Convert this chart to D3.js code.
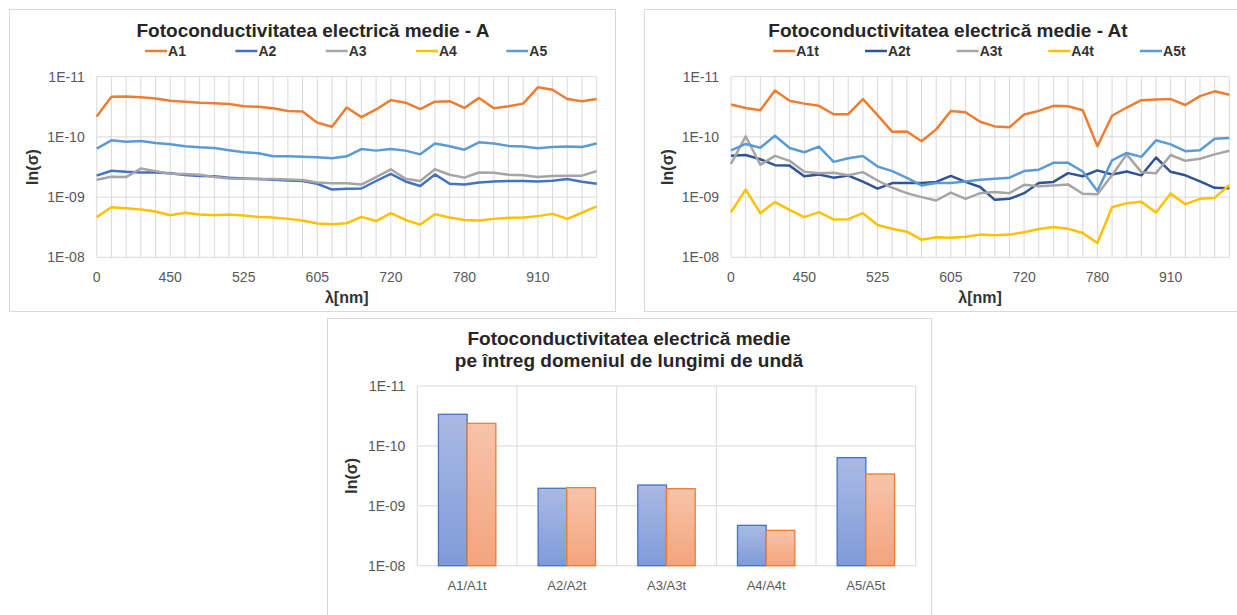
<!DOCTYPE html>
<html><head><meta charset="utf-8">
<script src="https://cdn.jsdelivr.net/npm/d3@7"></script>
<style>body{margin:0;background:#fff}svg{display:block;font-family:Arial,"Liberation Sans",sans-serif}</style>
</head><body><svg id="c" width="1237" height="615"></svg>
<script>
// ---- data ----
const xTickLabels = ["0","450","525","605","720","780","910"]; // shown every 5th category
const yTickValues = [1e-11, 1e-10, 1e-9, 1e-8];
const yTickLabels = ["1E-11","1E-10","1E-09","1E-08"];

const namesA = ["A1","A2","A3","A4","A5"];
const A1 = [4.6e-11,2.15e-11,2.13e-11,2.2e-11,2.3e-11,2.5e-11,2.6e-11,2.7e-11,2.75e-11,2.85e-11,3.1e-11,3.15e-11,3.35e-11,3.7e-11,3.8e-11,5.8e-11,6.8e-11,3.25e-11,4.7e-11,3.5e-11,2.45e-11,2.7e-11,3.45e-11,2.6e-11,2.55e-11,3.3e-11,2.25e-11,3.35e-11,3.1e-11,2.8e-11,1.5e-11,1.65e-11,2.35e-11,2.55e-11,2.35e-11];
const A2 = [4.4e-10,3.65e-10,3.8e-10,3.9e-10,3.9e-10,4.0e-10,4.3e-10,4.45e-10,4.5e-10,4.75e-10,4.9e-10,5.0e-10,5.15e-10,5.3e-10,5.4e-10,6.0e-10,7.5e-10,7.3e-10,7.2e-10,5.4e-10,4.1e-10,5.5e-10,6.55e-10,4.2e-10,6.0e-10,6.2e-10,5.7e-10,5.5e-10,5.4e-10,5.4e-10,5.5e-10,5.35e-10,5.0e-10,5.55e-10,6.0e-10];
const A3 = [5.15e-10,4.6e-10,4.65e-10,3.35e-10,3.7e-10,4.1e-10,4.15e-10,4.25e-10,4.65e-10,4.9e-10,4.95e-10,5.0e-10,5.0e-10,5.1e-10,5.2e-10,5.7e-10,5.9e-10,5.9e-10,6.2e-10,4.65e-10,3.45e-10,4.95e-10,5.4e-10,3.45e-10,4.25e-10,4.75e-10,3.9e-10,3.95e-10,4.25e-10,4.35e-10,4.65e-10,4.45e-10,4.4e-10,4.4e-10,3.7e-10];
const A4 = [2.15e-9,1.47e-9,1.53e-9,1.6e-9,1.73e-9,2.0e-9,1.82e-9,1.95e-9,2.0e-9,1.95e-9,2.02e-9,2.15e-9,2.18e-9,2.3e-9,2.45e-9,2.75e-9,2.82e-9,2.72e-9,2.13e-9,2.5e-9,1.85e-9,2.4e-9,2.86e-9,1.92e-9,2.18e-9,2.4e-9,2.45e-9,2.3e-9,2.2e-9,2.18e-9,2.07e-9,1.9e-9,2.3e-9,1.82e-9,1.43e-9];
const A5 = [1.57e-10,1.14e-10,1.2e-10,1.17e-10,1.26e-10,1.33e-10,1.43e-10,1.49e-10,1.53e-10,1.67e-10,1.8e-10,1.87e-10,2.1e-10,2.1e-10,2.13e-10,2.18e-10,2.27e-10,2.1e-10,1.59e-10,1.69e-10,1.59e-10,1.69e-10,1.95e-10,1.29e-10,1.43e-10,1.63e-10,1.23e-10,1.29e-10,1.41e-10,1.45e-10,1.55e-10,1.47e-10,1.45e-10,1.47e-10,1.29e-10];

const namesAt = ["A1t","A2t","A3t","A4t","A5t"];
const A1t = [2.9e-11,3.3e-11,3.6e-11,1.7e-11,2.5e-11,2.8e-11,3.05e-11,4.2e-11,4.2e-11,2.35e-11,4.35e-11,8.25e-11,8.15e-11,1.18e-10,7.5e-11,3.7e-11,3.9e-11,5.6e-11,6.7e-11,6.9e-11,4.25e-11,3.7e-11,3.05e-11,3.1e-11,3.6e-11,1.43e-10,4.45e-11,3.25e-11,2.45e-11,2.4e-11,2.35e-11,2.95e-11,2.1e-11,1.75e-11,2.0e-11];
const A2t = [2.05e-10,2.0e-10,2.35e-10,2.95e-10,3.0e-10,4.5e-10,4.2e-10,4.75e-10,4.4e-10,5.55e-10,7.25e-10,5.85e-10,5.85e-10,5.85e-10,5.6e-10,4.45e-10,5.6e-10,6.8e-10,1.11e-9,1.07e-9,8.6e-10,5.85e-10,5.6e-10,4.0e-10,4.5e-10,3.6e-10,4.2e-10,3.75e-10,4.35e-10,2.2e-10,3.8e-10,4.35e-10,5.5e-10,7.0e-10,7.1e-10];
const A3t = [2.8e-10,9.75e-11,2.9e-10,2.07e-10,2.5e-10,3.8e-10,4.0e-10,3.95e-10,4.35e-10,3.85e-10,5.3e-10,7.0e-10,8.6e-10,1.0e-9,1.14e-9,8.4e-10,1.07e-9,8.6e-10,8.25e-10,8.6e-10,6.25e-10,6.6e-10,6.4e-10,6.15e-10,8.8e-10,9.0e-10,4.35e-10,1.95e-10,3.85e-10,4.0e-10,2.0e-10,2.5e-10,2.3e-10,1.95e-10,1.7e-10];
const A4t = [1.78e-9,7.5e-10,1.85e-9,1.21e-9,1.63e-9,2.15e-9,1.78e-9,2.35e-9,2.33e-9,1.85e-9,2.9e-9,3.35e-9,3.75e-9,5.1e-9,4.65e-9,4.75e-9,4.55e-9,4.2e-9,4.3e-9,4.2e-9,3.85e-9,3.4e-9,3.15e-9,3.35e-9,3.95e-9,5.8e-9,1.47e-9,1.26e-9,1.2e-9,1.8e-9,8.7e-10,1.31e-9,1.07e-9,1.03e-9,6.3e-10];
const A5t = [1.67e-10,1.31e-10,1.51e-10,9.6e-11,1.53e-10,1.8e-10,1.45e-10,2.6e-10,2.27e-10,2.07e-10,3.1e-10,3.7e-10,4.8e-10,6.4e-10,5.85e-10,5.85e-10,5.5e-10,5.15e-10,4.95e-10,4.75e-10,3.7e-10,3.5e-10,2.7e-10,2.7e-10,3.75e-10,7.9e-10,2.45e-10,1.85e-10,2.15e-10,1.14e-10,1.33e-10,1.73e-10,1.67e-10,1.07e-10,1.04e-10];

const barCategories = ["A1/A1t","A2/A2t","A3/A3t","A4/A4t","A5/A5t"];
const barA  = [2.97e-11, 5.1e-10, 4.5e-10, 2.12e-9, 1.57e-10];
const barAt = [4.2e-11, 4.98e-10, 5.18e-10, 2.57e-9, 2.94e-10];

// ---- styles ----
const colorsA  = ["#ED7D31","#4472C4","#A5A5A5","#FFC000","#5B9BD5"];
const colorsAt = ["#ED7D31","#2F5597","#A5A5A5","#FFC000","#5B9BD5"];
const gridColor = "#D9D9D9";
const tickColor = "#595959";
const titleColor = "#262626";

const svg = d3.select("#c");

function yAxisGrid(g, y, l, r, fs) {
  yTickValues.forEach((v, i) => {
    g.append("line").attr("x1", l).attr("x2", r).attr("y1", y(v)).attr("y2", y(v))
      .attr("stroke", gridColor).attr("stroke-width", 1);
    g.append("text").attr("x", l - 12).attr("y", y(v)).attr("dy", "0.35em")
      .attr("text-anchor", "end").attr("font-size", fs).attr("fill", tickColor)
      .text(yTickLabels[i]);
  });
}

function lineChart(cfg) {
  const {panel, plot, title, names, series, colors, legendStep} = cfg;
  const g = svg.append("g");
  g.append("rect").attr("x", panel.x + 0.5).attr("y", panel.y + 0.5)
    .attr("width", panel.w).attr("height", panel.h)
    .attr("fill", "#fff").attr("stroke", gridColor);
  const n = series[0].length;
  const idx = d3.range(n);
  const x = d3.scalePoint().domain(idx).range([plot.l, plot.r]);
  const y = d3.scaleLog().domain([1e-11, 1e-8]).range([plot.t, plot.b]);
  // vertical grid
  idx.forEach(i => {
    g.append("line").attr("x1", x(i)).attr("x2", x(i)).attr("y1", plot.t).attr("y2", plot.b)
      .attr("stroke", gridColor).attr("stroke-width", 1);
  });
  yAxisGrid(g, y, plot.l, plot.r, 14);
  // x tick labels every 5th
  xTickLabels.forEach((lab, k) => {
    g.append("text").attr("x", x(k * 5)).attr("y", plot.b + 25)
      .attr("text-anchor", "middle").attr("font-size", 14).attr("fill", tickColor).text(lab);
  });
  // lines
  const line = d3.line().x((d, i) => x(i)).y(d => y(d));
  series.forEach((s, k) => {
    g.append("path").datum(s).attr("d", line).attr("fill", "none")
      .attr("stroke", colors[k]).attr("stroke-width", 2.5).attr("stroke-linejoin", "round");
  });
  // title
  g.append("text").attr("x", panel.x + panel.w / 2 + 1).attr("y", 37)
    .attr("text-anchor", "middle").attr("font-size", 19).attr("font-weight", "bold")
    .attr("fill", titleColor).text(title);
  // legend
  const cx = (plot.l + plot.r) / 2;
  const total = legendStep * (names.length - 1) + 22 + 2 + (names[0].length > 2 ? 23 : 18);
  let lx = cx - total / 2;
  names.forEach((nm, k) => {
    const x0 = lx + k * legendStep;
    g.append("line").attr("x1", x0).attr("x2", x0 + 22).attr("y1", 51).attr("y2", 51)
      .attr("stroke", colors[k]).attr("stroke-width", 2.5);
    g.append("text").attr("x", x0 + 23).attr("y", 56).attr("font-size", 14)
      .attr("font-weight", "bold").attr("fill", "#333").text(nm);
  });
  // axis titles
  g.append("text").attr("x", cx).attr("y", plot.b + 46).attr("text-anchor", "middle")
    .attr("font-size", 16).attr("font-weight", "bold").attr("fill", "#333").text("λ[nm]");
  g.append("text").attr("transform", `translate(${panel.x + 29},${(plot.t + plot.b) / 2}) rotate(-90)`)
    .attr("text-anchor", "middle").attr("font-size", 16).attr("font-weight", "bold")
    .attr("fill", "#333").text("ln(σ)");
}

lineChart({
  panel: {x: 9, y: 9, w: 606, h: 302},
  plot: {l: 96.7, t: 76.7, r: 596.7, b: 257.3},
  title: "Fotoconductivitatea electrică medie - A",
  names: namesA, series: [A1, A2, A3, A4, A5], colors: colorsA, legendStep: 90.3
});
lineChart({
  panel: {x: 644, y: 9, w: 606, h: 302},
  plot: {l: 731, t: 76.7, r: 1229.3, b: 257.3},
  title: "Fotoconductivitatea electrică medie - At",
  names: namesAt, series: [A1t, A2t, A3t, A4t, A5t], colors: colorsAt, legendStep: 91.7
});

// ---- bar chart ----
(function () {
  const panel = {x: 327, y: 318, w: 604, h: 310};
  const plot = {l: 417.3, t: 386, r: 915.7, b: 565.7};
  const g = svg.append("g");
  g.append("rect").attr("x", panel.x + 0.5).attr("y", panel.y + 0.5)
    .attr("width", panel.w).attr("height", panel.h).attr("fill", "#fff").attr("stroke", gridColor);
  const defs = svg.append("defs");
  const gb = defs.append("linearGradient").attr("id", "gBlue").attr("x1", 0).attr("x2", 0).attr("y1", 0).attr("y2", 1);
  gb.append("stop").attr("offset", "0%").attr("stop-color", "#AAB9E4");
  gb.append("stop").attr("offset", "100%").attr("stop-color", "#7F9BD8");
  const go = defs.append("linearGradient").attr("id", "gOrange").attr("x1", 0).attr("x2", 0).attr("y1", 0).attr("y2", 1);
  go.append("stop").attr("offset", "0%").attr("stop-color", "#F7C3AA");
  go.append("stop").attr("offset", "100%").attr("stop-color", "#F4A47C");

  const x0 = d3.scaleBand().domain(barCategories).range([plot.l, plot.r]).padding(0);
  const x1 = d3.scaleBand().domain(["A", "At"]).range([0, x0.bandwidth()]).paddingInner(0).paddingOuter(0.737);
  const y = d3.scaleLog().domain([1e-11, 1e-8]).range([plot.t, plot.b]);

  yAxisGrid(g, y, plot.l, plot.r, 14);
  barCategories.concat([null]).forEach((c, i) => {
    const xx = c === null ? plot.r : x0(c);
    g.append("line").attr("x1", xx).attr("x2", xx).attr("y1", plot.t).attr("y2", plot.b)
      .attr("stroke", gridColor);
  });
  const base = y(1e-8);
  barCategories.forEach((c, i) => {
    [[barA[i], "A", "url(#gBlue)", "#4472C4"], [barAt[i], "At", "url(#gOrange)", "#ED7D31"]].forEach(([v, key, fill, stroke]) => {
      g.append("rect").attr("x", x0(c) + x1(key)).attr("y", y(v))
        .attr("width", x1.bandwidth()).attr("height", base - y(v))
        .attr("fill", fill).attr("stroke", stroke).attr("stroke-width", 1.3);
    });
    g.append("text").attr("x", x0(c) + x0.bandwidth() / 2).attr("y", plot.b + 24)
      .attr("text-anchor", "middle").attr("font-size", 13).attr("fill", tickColor).text(c);
  });
  const tcx = panel.x + panel.w / 2;
  g.append("text").attr("x", tcx).attr("y", 345).attr("text-anchor", "middle")
    .attr("font-size", 19).attr("font-weight", "bold").attr("fill", titleColor)
    .text("Fotoconductivitatea electrică medie");
  g.append("text").attr("x", tcx).attr("y", 367).attr("text-anchor", "middle")
    .attr("font-size", 19).attr("font-weight", "bold").attr("fill", titleColor)
    .text("pe întreg domeniul de lungimi de undă");
  g.append("text").attr("transform", `translate(357,${(plot.t + plot.b) / 2}) rotate(-90)`)
    .attr("text-anchor", "middle").attr("font-size", 16).attr("font-weight", "bold")
    .attr("fill", "#333").text("ln(σ)");
})();
</script></body></html>
